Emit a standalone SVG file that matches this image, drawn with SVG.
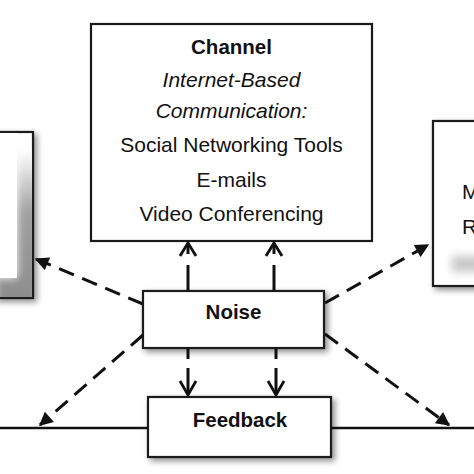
<svg xmlns="http://www.w3.org/2000/svg" width="474" height="474" viewBox="0 0 474 474">
<style>
.box{fill:#fff;stroke:#1a1a1a;stroke-width:2.2}
.t{font-family:"Liberation Sans",Arial,sans-serif;font-size:21px;fill:#111;text-anchor:middle}
.b{font-weight:bold;font-size:20.5px}
.i{font-style:italic}
.dash{fill:none;stroke:#111;stroke-width:3;stroke-dasharray:16 9}
.solid{fill:none;stroke:#111;stroke-width:3}
.chev{fill:none;stroke:#111;stroke-width:2.8;stroke-linejoin:miter}
.line{fill:none;stroke:#111;stroke-width:2.6}
</style>
<defs>
<filter id="sh" x="-20%" y="-20%" width="150%" height="160%">
<feGaussianBlur in="SourceAlpha" stdDeviation="3"/>
<feOffset dx="3" dy="3" result="o"/>
<feComponentTransfer><feFuncA type="linear" slope="0.45"/></feComponentTransfer>
<feMerge><feMergeNode/><feMergeNode in="SourceGraphic"/></feMerge>
</filter>
<filter id="blur" x="-50%" y="-50%" width="200%" height="200%"><feGaussianBlur stdDeviation="4"/></filter>
<linearGradient id="lg" x1="0" y1="0" x2="0" y2="1">
<stop offset="0" stop-color="#fff"/>
<stop offset="0.4" stop-color="#a0a0a0"/>
<stop offset="1" stop-color="#8c8c8c"/>
</linearGradient>
<clipPath id="clL"><rect x="0" y="133" width="32" height="164"/></clipPath>
<clipPath id="clR"><rect x="434" y="122" width="40" height="163"/></clipPath>
<marker id="ah" viewBox="0 0 10 10" refX="9" refY="5" markerWidth="5.3" markerHeight="4.6" orient="auto" markerUnits="strokeWidth">
<path d="M0,0 L10,5 L0,10 Z" fill="#111"/>
</marker>
</defs>

<g id="sender">
<rect class="box" x="-5" y="132" width="38" height="166" filter="url(#sh)"/>
<g clip-path="url(#clL)">
<path d="M17,150 L40,150 L40,305 L-5,305 L-5,278 L17,278 Z" fill="url(#lg)" filter="url(#blur)"/>
<rect x="-5" y="120" width="22" height="158" fill="#fff"/>
</g>
</g>

<g id="channel">
<rect class="box" x="91" y="24" width="281" height="217"/>
<text class="t b" x="231.5" y="54">Channel</text>
<text class="t i" x="231.5" y="87">Internet-Based</text>
<text class="t i" x="231.5" y="118">Communication:</text>
<text class="t" x="231.5" y="152">Social Networking Tools</text>
<text class="t" x="231.5" y="187">E-mails</text>
<text class="t" x="231.5" y="221">Video Conferencing</text>
</g>

<g id="receiver">
<rect class="box" x="433" y="121" width="50" height="165" filter="url(#sh)"/>
<g clip-path="url(#clR)">
<rect x="452" y="256" width="30" height="16" fill="#c8c8c8" filter="url(#blur)"/>
</g>
<text class="t" x="462" y="199" style="text-anchor:start">M</text>
<text class="t" x="462" y="234" style="text-anchor:start">R</text>
</g>

<g id="noise">
<rect class="box" x="143" y="291" width="181" height="57" filter="url(#sh)"/>
<text class="t b" x="233.5" y="319">Noise</text>
</g>

<g id="feedback">
<rect class="box" x="148" y="397" width="183" height="60" filter="url(#sh)"/>
<text class="t b" x="240" y="427">Feedback</text>
</g>

<g id="connectors">
<line class="line" x1="0" y1="428" x2="148" y2="428"/>
<line class="line" x1="331" y1="428" x2="474" y2="428"/>

<line class="dash" x1="143" y1="304" x2="36" y2="259" marker-end="url(#ah)"/>
<line class="dash" x1="325" y1="303" x2="428" y2="245" marker-end="url(#ah)"/>
<line class="dash" x1="143" y1="335" x2="40" y2="425" marker-end="url(#ah)"/>
<line class="dash" x1="325" y1="334" x2="449" y2="425" marker-end="url(#ah)"/>

<line class="solid" x1="188" y1="291" x2="188" y2="265"/>
<line class="solid" x1="188" y1="254" x2="188" y2="243"/>
<path class="chev" d="M180,256 L188,243 L196,256"/>
<line class="solid" x1="274" y1="291" x2="274" y2="265"/>
<line class="solid" x1="274" y1="254" x2="274" y2="243"/>
<path class="chev" d="M266,256 L274,243 L282,256"/>

<line class="solid" x1="188" y1="348" x2="188" y2="359"/>
<line class="solid" x1="188" y1="368" x2="188" y2="395"/>
<path class="chev" d="M180,381 L188,395 L196,381"/>
<line class="solid" x1="276" y1="348" x2="276" y2="359"/>
<line class="solid" x1="276" y1="368" x2="276" y2="395"/>
<path class="chev" d="M268,381 L276,395 L284,381"/>
</g>
</svg>
